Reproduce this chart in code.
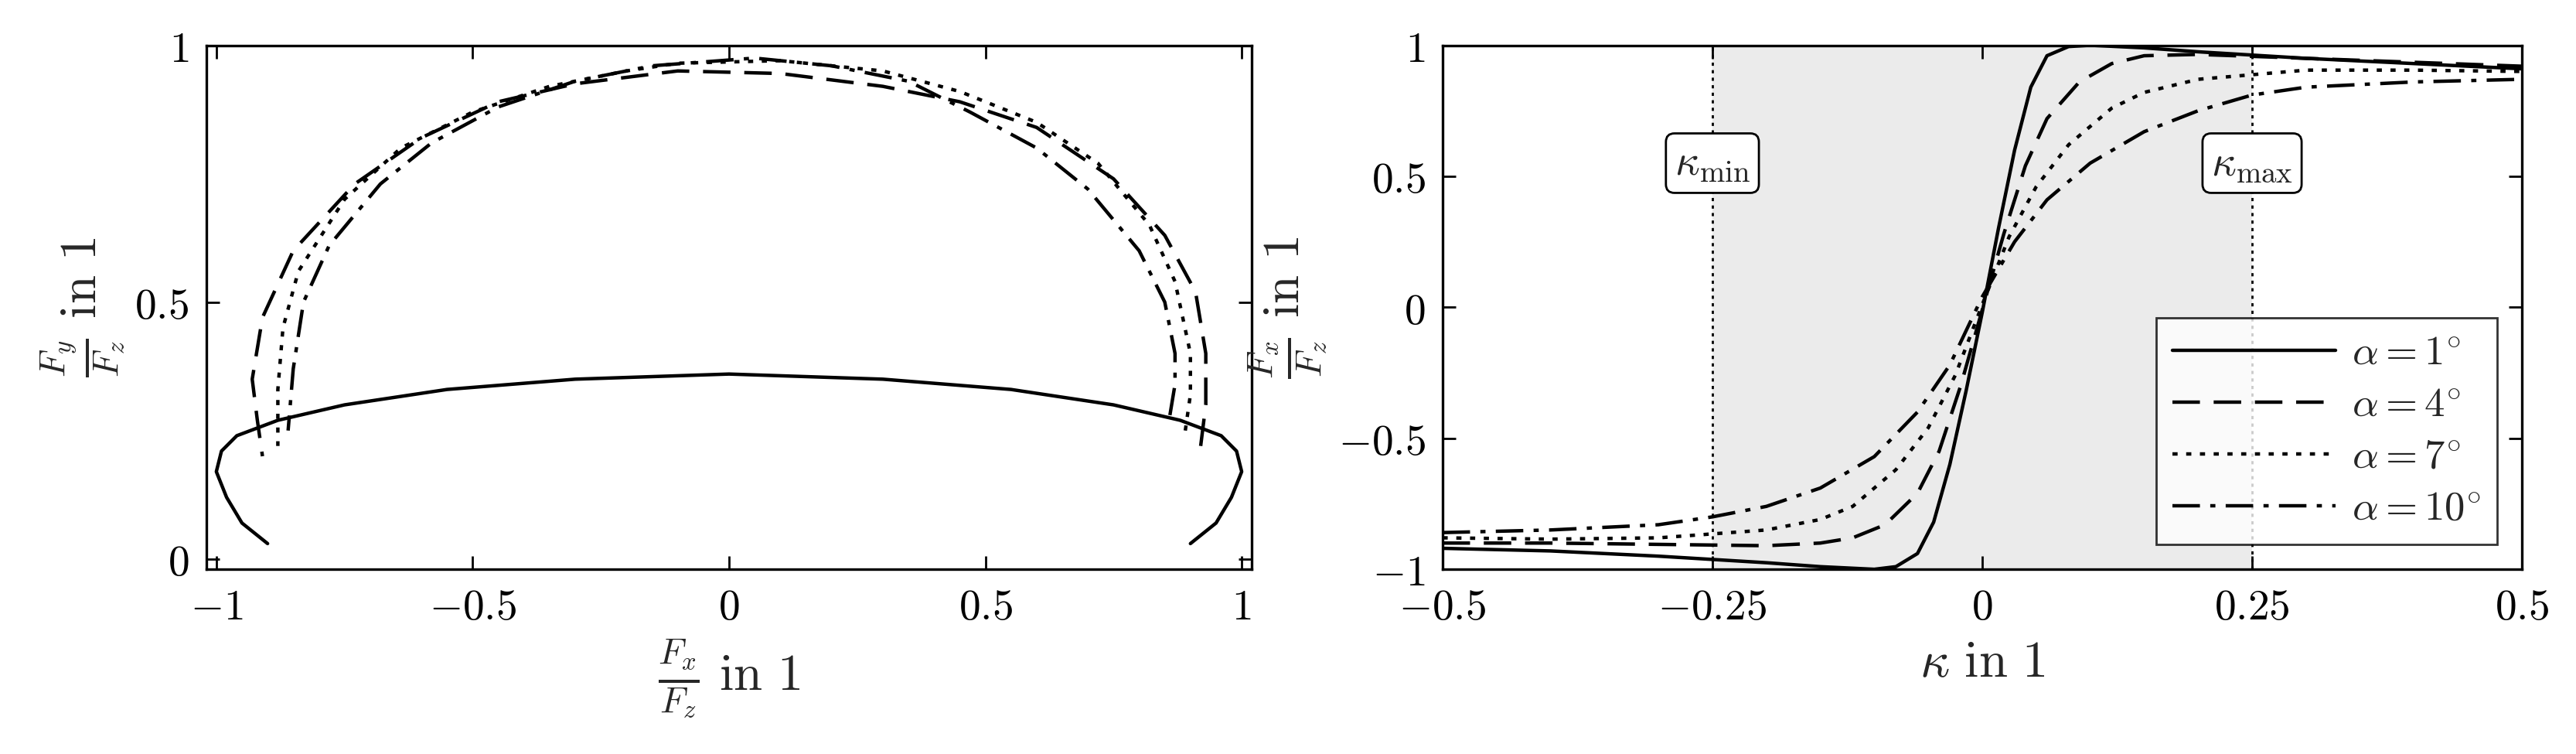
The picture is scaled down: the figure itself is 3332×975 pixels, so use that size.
import numpy as np, pandas as pd, seaborn as sns, matplotlib
matplotlib.use("Agg")
import matplotlib.pyplot as plt

sns.set_theme(style="white")
plt.rcParams['mathtext.fontset'] = 'cm'
plt.rcParams['font.family'] = ['DejaVu Serif']

labels = [r'$\alpha = 1^{\circ}$', r'$\alpha = 4^{\circ}$', r'$\alpha = 7^{\circ}$', r'$\alpha = 10^{\circ}$']
styles = ['-', (0, (8, 4)), (0, (1.5, 2.5)), (0, (8, 3, 1.5, 3))]

# left panel: friction ellipses (Fx/Fz, Fy/Fz)
fx1 = [0.90, 0.95, 0.98, 1.00, 0.99, 0.96, 0.88, 0.75, 0.55, 0.30, 0.0, -0.30, -0.55, -0.75, -0.88, -0.96, -0.99, -1.00, -0.98, -0.95, -0.90]
fy1 = [0.03, 0.07, 0.12, 0.17, 0.21, 0.24, 0.27, 0.30, 0.33, 0.35, 0.36, 0.35, 0.33, 0.30, 0.27, 0.24, 0.21, 0.17, 0.12, 0.07, 0.03]
fx4 = [0.92, 0.93, 0.93, 0.91, 0.85, 0.75, 0.60, 0.45, 0.30, 0.10, -0.10, -0.30, -0.45, -0.60, -0.73, -0.85, -0.91, -0.93, -0.92, -0.91]
fy4 = [0.22, 0.30, 0.40, 0.52, 0.63, 0.74, 0.84, 0.89, 0.92, 0.945, 0.95, 0.925, 0.89, 0.82, 0.73, 0.60, 0.47, 0.35, 0.27, 0.20]
fx7 = [0.89, 0.90, 0.90, 0.87, 0.82, 0.72, 0.60, 0.45, 0.30, 0.10, -0.10, -0.20, -0.35, -0.50, -0.64, -0.75, -0.84, -0.87, -0.88, -0.88]
fy7 = [0.25, 0.32, 0.40, 0.54, 0.65, 0.77, 0.85, 0.91, 0.95, 0.97, 0.965, 0.95, 0.92, 0.87, 0.80, 0.70, 0.56, 0.45, 0.33, 0.22]
fx10 = [0.86, 0.87, 0.87, 0.85, 0.80, 0.70, 0.60, 0.47, 0.35, 0.20, 0.05, -0.15, -0.30, -0.45, -0.58, -0.68, -0.78, -0.83, -0.85, -0.86]
fy10 = [0.28, 0.34, 0.40, 0.50, 0.60, 0.72, 0.80, 0.87, 0.93, 0.96, 0.975, 0.96, 0.93, 0.88, 0.81, 0.73, 0.61, 0.50, 0.37, 0.25]

# right panel: longitudinal force vs slip
k1 = [-0.5, -0.4, -0.3, -0.2, -0.15, -0.1, -0.08, -0.06, -0.045, -0.03, -0.015, 0.0, 0.015, 0.03, 0.045, 0.06, 0.08, 0.1, 0.15, 0.2, 0.3, 0.4, 0.5]
v1 = [-0.92, -0.93, -0.95, -0.975, -0.99, -1.0, -0.99, -0.94, -0.82, -0.6, -0.32, -0.02, 0.3, 0.6, 0.84, 0.96, 0.995, 1.0, 0.99, 0.975, 0.95, 0.93, 0.91]
k4 = [-0.5, -0.4, -0.3, -0.2, -0.15, -0.12, -0.09, -0.06, -0.04, -0.02, 0.0, 0.02, 0.04, 0.06, 0.09, 0.12, 0.15, 0.2, 0.3, 0.4, 0.5]
v4 = [-0.90, -0.90, -0.905, -0.91, -0.90, -0.88, -0.83, -0.71, -0.55, -0.30, -0.01, 0.28, 0.54, 0.72, 0.86, 0.93, 0.96, 0.965, 0.95, 0.935, 0.92]
k7 = [-0.5, -0.4, -0.3, -0.2, -0.15, -0.12, -0.08, -0.05, -0.025, 0.0, 0.025, 0.05, 0.08, 0.12, 0.15, 0.2, 0.3, 0.4, 0.5]
v7 = [-0.88, -0.885, -0.88, -0.85, -0.81, -0.76, -0.62, -0.46, -0.26, 0.01, 0.27, 0.46, 0.62, 0.76, 0.82, 0.87, 0.905, 0.905, 0.90]
k10 = [-0.5, -0.4, -0.3, -0.25, -0.2, -0.15, -0.1, -0.06, -0.03, 0.0, 0.03, 0.06, 0.1, 0.15, 0.2, 0.25, 0.3, 0.4, 0.5]
v10 = [-0.86, -0.85, -0.83, -0.80, -0.76, -0.69, -0.57, -0.40, -0.22, 0.04, 0.25, 0.41, 0.55, 0.67, 0.75, 0.81, 0.84, 0.86, 0.87]

fig = plt.figure(figsize=(16.66, 4.875), dpi=200)
ax1 = fig.add_axes([0.080, 0.245, 0.406, 0.695])
ax2 = fig.add_axes([0.560, 0.245, 0.419, 0.695])

for fx, fy, ls in zip([fx1, fx4, fx7, fx10], [fy1, fy4, fy7, fy10], styles):
    sns.lineplot(x=fx, y=fy, sort=False, estimator=None, ax=ax1, color='black', lw=1.6, linestyle=ls)
for k, v, ls, lab in zip([k1, k4, k7, k10], [v1, v4, v7, v10], styles, labels):
    sns.lineplot(x=k, y=v, sort=False, estimator=None, ax=ax2, color='black', lw=1.6, linestyle=ls, label=lab)

fs = 20
ax1.set_xlim(-1.02, 1.02); ax1.set_ylim(-0.02, 1.0)
ax1.set_xticks([-1, -0.5, 0, 0.5, 1]); ax1.set_xticklabels([f'${t:g}$' for t in [-1, -0.5, 0, 0.5, 1]], fontsize=fs)
ax1.set_yticks([0, 0.5, 1]); ax1.set_yticklabels(['$0$', '$0.5$', '$1$'], fontsize=fs)
ax1.set_xlabel(r'$\frac{F_x}{F_z}\ \mathrm{in}\ 1$', fontsize=fs + 4)
ax1.set_ylabel(r'$\frac{F_y}{F_z}\ \mathrm{in}\ 1$', fontsize=fs + 4)

ax2.axvspan(-0.25, 0.25, color='#ebebeb', zorder=0, lw=0)
for xv in (-0.25, 0.25):
    ax2.axvline(xv, color='black', lw=1.0, linestyle=(0, (1.5, 2)), zorder=1)
box = dict(boxstyle='round,pad=0.2', fc='white', ec='black', lw=1)
ax2.text(-0.25, 0.55, r'$\kappa_{\min}$', ha='center', va='center', fontsize=fs, bbox=box)
ax2.text(0.25, 0.55, r'$\kappa_{\max}$', ha='center', va='center', fontsize=fs, bbox=box)
ax2.set_xlim(-0.5, 0.5); ax2.set_ylim(-1, 1)
xt = [-0.5, -0.25, 0, 0.25, 0.5]
ax2.set_xticks(xt); ax2.set_xticklabels([f'${t:g}$' for t in xt], fontsize=fs)
yt = [-1, -0.5, 0, 0.5, 1]
ax2.set_yticks(yt); ax2.set_yticklabels([f'${t:g}$' for t in yt], fontsize=fs)
ax2.set_xlabel(r'$\kappa\ \mathrm{in}\ 1$', fontsize=fs + 4)
ax2.set_ylabel(r'$\frac{F_x}{F_z}\ \mathrm{in}\ 1$', fontsize=fs + 4)
leg = ax2.legend(loc='lower right', fontsize=fs - 1, frameon=True, fancybox=False, edgecolor='black',
                 handlelength=4, borderaxespad=0.6, labelspacing=0.3, handletextpad=0.4)
for t in leg.get_texts():
    t.set_ha('right')
leg.get_frame().set_linewidth(1)

for ax in (ax1, ax2):
    for s in ax.spines.values():
        s.set_color('black'); s.set_linewidth(1.2)
    ax.tick_params(direction='in', length=6, width=1, top=True, right=True, bottom=True, left=True,
                   colors='black', pad=8)

fig.savefig('out.png', dpi=200)
